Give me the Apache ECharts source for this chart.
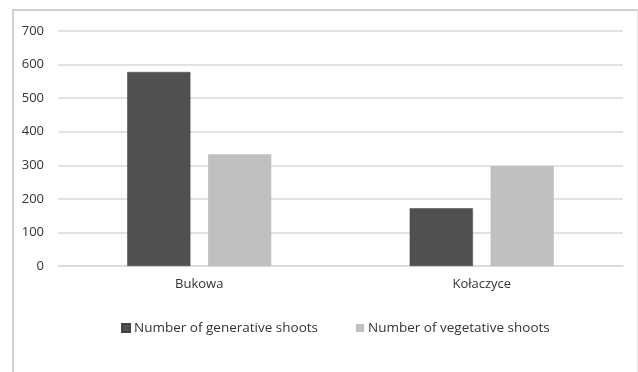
<!DOCTYPE html>
<html>
<head>
<meta charset="utf-8">
<script src="https://cdn.jsdelivr.net/npm/echarts@6/dist/echarts.min.js"></script>
<style>
html, body { margin: 0; padding: 0; background: #fff; }
#wrap { position: relative; width: 638px; height: 372px; overflow: hidden; }
/* the chart frame: top, left and right edge only */
#frame { position: absolute; left: 12px; top: 9px; width: 623px; height: 370px;
  border-top: 2px solid #d0d0d0; border-left: 2px solid #d0d0d0; border-right: 1px solid #e6e6e6; }
#chart { position: absolute; left: 0; top: 0; width: 638px; height: 372px; }
</style>
</head>
<body>
<div id="wrap">
  <div id="frame"></div>
  <div id="chart"></div>
</div>
<script>
// sites and shoot counts
const sites = ['Bukowa', 'Kołaczyce'];
const generative = [578, 172];
const vegetative = [333, 298];
const seriesNames = ['Number of generative shoots', 'Number of vegetative shoots'];

const chart = echarts.init(document.getElementById('chart'));

const font = '"Open Sans", "Liberation Sans", sans-serif';

const option = {
  backgroundColor: 'transparent',
  animation: false,
  textStyle: { fontFamily: font, color: '#333' },
  grid: { left: 58, right: 15, top: 31, bottom: 106 },
  legend: {
    data: seriesNames,
    bottom: 32,
    left: 116,
    itemWidth: 8,
    itemHeight: 8,
    itemGap: 38,
    icon: 'rect',
    textStyle: { fontSize: 13.5, color: '#333', fontFamily: font, padding: [0, 0, 0, -1] }
  },
  xAxis: {
    type: 'category',
    data: sites,
    axisLine: { lineStyle: { color: '#d9d9d9', width: 1.5 } },
    axisTick: { show: false },
    axisLabel: { fontSize: 13, color: '#333', margin: 12 }
  },
  yAxis: {
    type: 'value',
    min: 0,
    max: 700,
    interval: 100,
    axisLine: { show: false },
    axisTick: { show: false },
    splitLine: { lineStyle: { color: '#d9d9d9', width: 1.5 } },
    axisLabel: { fontSize: 13, color: '#333', margin: 14 }
  },
  series: [
    {
      name: seriesNames[0],
      type: 'bar',
      data: generative,
      barGap: '28%',
      barCategoryGap: '49%',
      itemStyle: { color: '#505050', borderColor: '#444', borderWidth: 0.5 }
    },
    {
      name: seriesNames[1],
      type: 'bar',
      data: vegetative,
      itemStyle: { color: '#c0c0c0' }
    }
  ]
};

chart.setOption(option);
</script>
</body>
</html>
